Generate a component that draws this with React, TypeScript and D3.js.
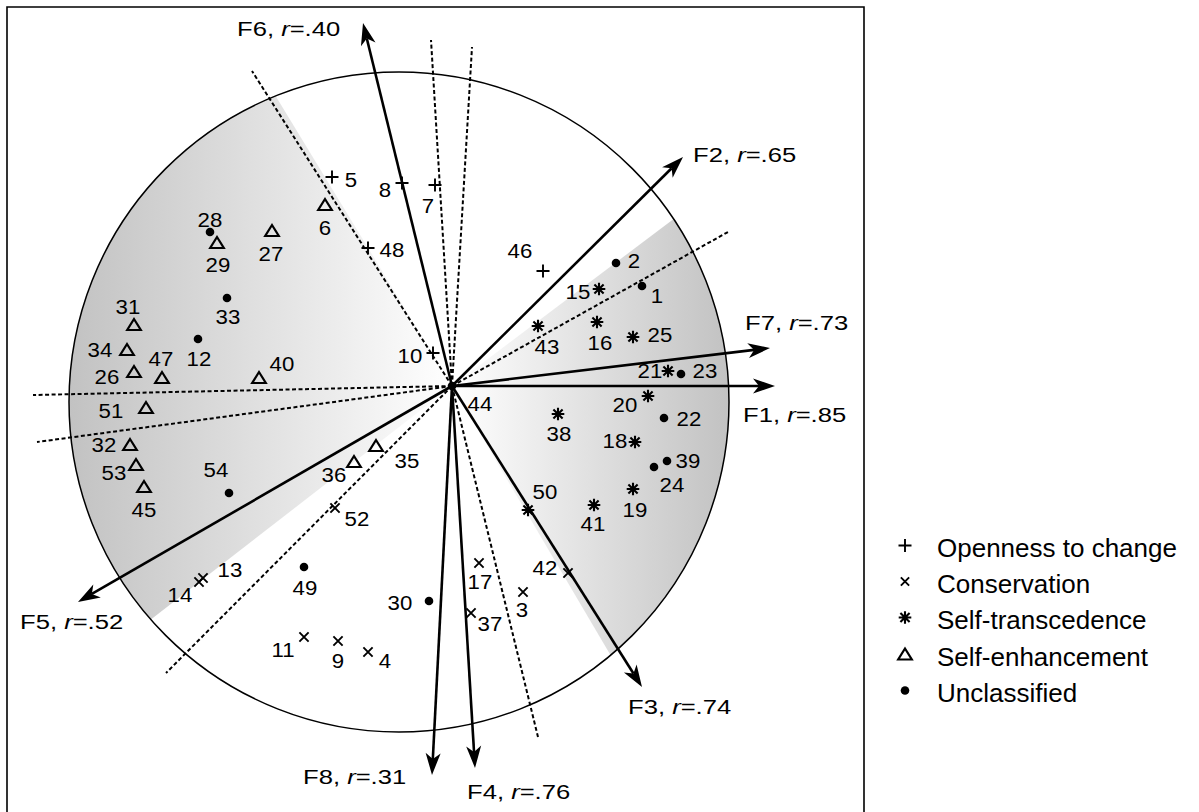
import React from "react";
import * as d3 from "d3";

const W = 1199;
const H = 812;

// item coordinates [id, dim1, dim2]
const openness: number[][] = [
  [5, -1.2, 2.09], [8, -0.5, 2.03], [7, -0.17, 2.01], [48, -0.84, 1.38], [10, -0.19, 0.33], [46, 0.91, 1.15],
];
const conservation: number[][] = [
  [52, -1.17, -1.22], [13, -2.49, -1.92], [14, -2.53, -1.96], [11, -1.48, -2.51], [9, -1.14, -2.55],
  [4, -0.84, -2.66], [17, 0.27, -1.77], [3, 0.71, -2.06], [37, 0.19, -2.27], [42, 1.16, -1.87],
];
const selfTranscendence: number[][] = [
  [15, 1.47, 0.97], [43, 0.86, 0.6], [16, 1.45, 0.64], [25, 1.81, 0.49], [21, 2.16, 0.15], [20, 1.96, -0.1],
  [38, 1.06, -0.28], [18, 1.83, -0.56], [19, 1.81, -1.03], [41, 1.42, -1.19], [50, 0.76, -1.24],
];
const selfEnhancement: number[][] = [
  [6, -1.27, 1.81], [27, -1.8, 1.55], [29, -2.35, 1.43], [31, -3.18, 0.61], [34, -3.25, 0.36], [26, -3.18, 0.14],
  [47, -2.9, 0.08], [40, -1.93, 0.08], [51, -3.06, -0.22], [32, -3.22, -0.59], [53, -3.16, -0.79],
  [45, -3.08, -1.01], [36, -0.98, -0.76], [35, -0.76, -0.6],
];
const unclassified: number[][] = [
  [28, -2.42, 1.54], [33, -2.25, 0.88], [12, -2.54, 0.47], [54, -2.23, -1.07], [49, -1.48, -1.81],
  [30, -0.23, -2.15], [2, 1.64, 1.23], [1, 1.9, 1.0], [23, 2.29, 0.12], [22, 2.12, -0.32], [39, 2.15, -0.75],
  [24, 2.02, -0.81], [44, 0, 0],
];

const groupNames = ["Openness to change", "Conservation", "Self-transcedence", "Self-enhancement", "Unclassified"];
const groupItems = [openness, conservation, selfTranscendence, selfEnhancement, unclassified];
const groupSymbols = ["plus", "cross", "asterisk", "triangle", "dot"];

// factor vectors
const factorNames = ["F1", "F2", "F3", "F4", "F5", "F6", "F7", "F8"];
const factorR = [".85", ".65", ".74", ".76", ".52", ".40", ".73", ".31"];
const factorTips = [
  [3.23, 0.0], [2.31, 2.29], [1.9, -3.01], [0.23, -3.82], [-3.74, -2.16], [-0.89, 3.63], [3.18, 0.38], [-0.2, -3.89],
];

// dotted region boundaries (end points of rays from origin)
const boundaryRays = [
  [-4.19, -0.09], [-4.15, -0.56], [-2.0, 3.15], [-0.21, 3.46], [0.2, 3.39], [2.76, 1.54], [-2.86, -2.87], [0.86, -3.51],
];

// shaded sectors, angles in degrees
const sectors = [[121.3, 217.9], [-59.5, 37.4]];

const circleCenter = [-0.53, -0.16];
const circleRadius = 3.3;

// label placement (px from marker)
const labelNudge: Record<number, number[]> = {
  5: [19, 3], 8: [-17, 7], 7: [-7, 21], 6: [0, 23], 48: [24, 2], 28: [0, -12], 29: [1, 22], 27: [-1, 23],
  33: [1, 19], 31: [-6, -18], 12: [1, 20], 34: [-27, 0], 47: [-1, -19], 26: [-27, 5], 40: [23, -14],
  10: [-23, 3], 51: [-35, 3], 32: [-26, 0], 53: [-22, 8], 45: [0, 23], 54: [-13, -23], 36: [-20, 13],
  35: [31, 15], 52: [22, 11], 13: [27, -8], 14: [-19, 13], 49: [1, 21], 30: [-29, 2], 11: [-21, 13],
  9: [0, 20], 4: [17, 9], 46: [-23, -20], 2: [18, -2], 15: [-21, 3], 1: [15, 10], 43: [9, 21], 16: [3, 21],
  25: [27, -2], 21: [-18, 0], 23: [24, -3], 20: [-23, 9], 22: [25, 1], 38: [1, 20], 18: [-20, -1],
  39: [21, 0], 24: [18, 18], 19: [2, 21], 41: [-1, 19], 50: [17, -18], 42: [-23, -5], 17: [1, 19],
  3: [-1, 18], 37: [19, 11], 44: [28, 18],
};
const factorLabelNudge = [[-32, 36], [10, 5], [-14, 27], [-8, 31], [-58, 27], [-126, 13], [-25, -18], [-129, 9]];

const FONT = "'Liberation Sans', Arial, sans-serif";

const Marker = ({ kind, cx, cy, s = 1 }: { kind: string; cx: number; cy: number; s?: number }) => {
  const sw = 1.9;
  if (kind === "plus") {
    const h = 6.5 * s;
    return <path d={`M${cx - h},${cy}H${cx + h}M${cx},${cy - h}V${cy + h}`} stroke="#000" strokeWidth={sw} />;
  }
  if (kind === "cross") {
    const h = 4.6 * s;
    return (
      <path d={`M${cx - h},${cy - h}L${cx + h},${cy + h}M${cx - h},${cy + h}L${cx + h},${cy - h}`} stroke="#000" strokeWidth={sw} />
    );
  }
  if (kind === "asterisk") {
    const h = 6.3 * s;
    const d = 4.6 * s;
    return (
      <path
        d={`M${cx},${cy - h}V${cy + h}M${cx - h},${cy}H${cx + h}M${cx - d},${cy - d}L${cx + d},${cy + d}M${cx - d},${cy + d}L${cx + d},${cy - d}`}
        stroke="#000"
        strokeWidth={2.1}
      />
    );
  }
  if (kind === "triangle") {
    const hw = 6.8 * s;
    return (
      <path
        d={`M${cx},${cy - 6 * s}L${cx + hw},${cy + 5 * s}L${cx - hw},${cy + 5 * s}Z`}
        fill="none"
        stroke="#000"
        strokeWidth={2.2}
        strokeLinejoin="miter"
      />
    );
  }
  return <circle cx={cx} cy={cy} r={4.3 * s} fill="#000" />;
};

export default function App() {
  const x = d3.scaleLinear().domain([-4.45, 4.12]).range([7, 864]);
  const y = d3.scaleLinear().domain([3.79, -4.25]).range([7, 811]);
  const ox = x(0);
  const oy = y(0);

  const [ccx, ccy] = circleCenter;
  const rayLen = (deg: number) => {
    const a = (deg * Math.PI) / 180;
    const ux = Math.cos(a);
    const uy = Math.sin(a);
    const b = ux * ccx + uy * ccy;
    const t = b + Math.sqrt(b * b - (ccx * ccx + ccy * ccy) + circleRadius * circleRadius);
    return [t * ux, t * uy];
  };
  const wedge = ([a0, a1]: number[]) => {
    const pts: [number, number][] = [[ox, oy]];
    for (let a = a0; a <= a1 + 1e-6; a += 0.5) {
      const [px, py] = rayLen(a);
      pts.push([x(px), y(py)]);
    }
    return d3.line()(pts) + "Z";
  };

  const arrowHead = (tx: number, ty: number) => {
    const ang = Math.atan2(ty - oy, tx - ox);
    const L = 22;
    const hw = 7.5;
    const notch = 16;
    const c = Math.cos(ang);
    const s = Math.sin(ang);
    const p = (a: number, b: number) => `${tx + a * c - b * s},${ty + a * s + b * c}`;
    return `M${p(0, 0)}L${p(-L, hw)}L${p(-notch, 0)}L${p(-L, -hw)}Z`;
  };

  const legendBaselines = [557, 593, 629, 666, 702];

  return (
    <svg width={W} height={H} style={{ position: "absolute", left: 0, top: 0, background: "#fff" }}>
      <defs>
        <linearGradient id="shadeL" gradientUnits="userSpaceOnUse" x1={ox} y1={0} x2={x(ccx - circleRadius)} y2={0}>
          <stop offset="0" stopColor="#ffffff" />
          <stop offset="1" stopColor="#c2c2c2" />
        </linearGradient>
        <linearGradient id="shadeR" gradientUnits="userSpaceOnUse" x1={ox} y1={0} x2={x(ccx + circleRadius)} y2={0}>
          <stop offset="0" stopColor="#ffffff" />
          <stop offset="1" stopColor="#c2c2c2" />
        </linearGradient>
      </defs>

      {/* frame */}
      <path d={`M7,${H + 5}V7H864V${H + 5}`} fill="none" stroke="#000" strokeWidth={1.6} />

      {/* shaded sectors */}
      <path d={wedge(sectors[0])} fill="url(#shadeL)" />
      <path d={wedge(sectors[1])} fill="url(#shadeR)" />

      <circle cx={x(ccx)} cy={y(ccy)} r={x(circleRadius) - x(0)} fill="none" stroke="#000" strokeWidth={1.5} />

      {/* dotted boundaries */}
      {boundaryRays.map(([bx, by], i) => (
        <line key={"b" + i} x1={ox} y1={oy} x2={x(bx)} y2={y(by)} stroke="#000" strokeWidth={2} strokeDasharray="4,2.5" />
      ))}

      {/* factor vectors */}
      {factorTips.map(([fx, fy], i) => {
        const tx = x(fx);
        const ty = y(fy);
        const ang = Math.atan2(ty - oy, tx - ox);
        const ex = tx - 16 * Math.cos(ang);
        const ey = ty - 16 * Math.sin(ang);
        const [lx, ly] = factorLabelNudge[i];
        return (
          <g key={"f" + i}>
            <line x1={ox} y1={oy} x2={ex} y2={ey} stroke="#000" strokeWidth={2.6} />
            <path d={arrowHead(tx, ty)} fill="#000" />
            <text
              transform={`translate(${tx + lx},${ty + ly}) scale(1.22,1)`}
              fontFamily={FONT}
              fontSize={21}
              fill="#000"
            >
              {factorNames[i]}, <tspan fontStyle="italic">r</tspan>={factorR[i]}
            </text>
          </g>
        );
      })}

      {/* items */}
      {groupItems.map((items, gi) =>
        items.map(([id, dx, dy]) => {
          const cx = x(dx);
          const cy = y(dy);
          const [nx, ny] = labelNudge[id] || [0, 18];
          return (
            <g key={"p" + id}>
              <Marker kind={groupSymbols[gi]} cx={cx} cy={cy} />
              <text
                transform={`translate(${cx + nx},${cy + ny}) scale(1.06,1)`}
                textAnchor="middle"
                dominantBaseline="central"
                fontFamily={FONT}
                fontSize={21}
                fill="#000"
              >
                {id}
              </text>
            </g>
          );
        })
      )}

      {/* legend */}
      {groupNames.map((name, i) => (
        <g key={"l" + i}>
          <Marker kind={groupSymbols[i]} cx={905} cy={legendBaselines[i] - 11.5} s={i === 1 ? 0.9 : 1} />
          <text x={937} y={legendBaselines[i]} fontFamily={FONT} fontSize={26} fill="#000">
            {name}
          </text>
        </g>
      ))}
    </svg>
  );
}
